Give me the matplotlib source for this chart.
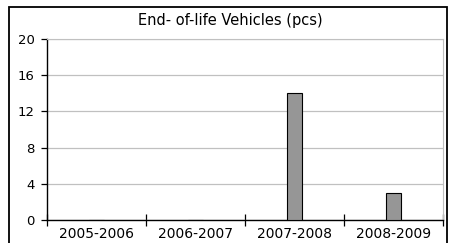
import matplotlib
matplotlib.use("Agg")
import matplotlib.pyplot as plt
from matplotlib.patches import Rectangle
import numpy as np

categories = ["2005-2006", "2006-2007", "2007-2008", "2008-2009"]
values = [0, 0, 14, 3]
y_ticks = [0, 4, 8, 12, 16, 20]
title = "End- of-life Vehicles (pcs)"

plt.rcParams["font.family"] = ["DejaVu Sans"]

fig = plt.figure(figsize=(4.49, 2.43), dpi=100)
ax = fig.add_axes([47 / 449, 1 - 220 / 243, 396 / 449, 181 / 243])

# outer chart frame (bottom edge falls off the image)
fig.patches.append(Rectangle((8.5 / 449, -0.2), (447 - 8.5) / 449, 1.2 - 7 / 243,
                             transform=fig.transFigure, fill=False,
                             edgecolor="black", linewidth=1.3))

x = np.arange(len(categories))
ax.bar(x, values, width=0.15, color="#969696", edgecolor="black", linewidth=0.8, zorder=3)

ax.set_xlim(-0.5, len(categories) - 0.5)
ax.set_ylim(0, 20)
ax.set_yticks(y_ticks)
ax.set_yticklabels([str(v) for v in y_ticks], fontsize=9.5)
ax.yaxis.grid(True, color="#c0c0c0", linewidth=0.9, zorder=0)

ax.set_xticks(x)
ax.set_xticklabels(categories, fontsize=10)
ax.tick_params(axis="x", length=0, pad=5)
ax.set_xticks(np.arange(-0.5, len(categories)), minor=True)
ax.tick_params(axis="x", which="minor", direction="inout", length=8, width=0.9)
ax.tick_params(axis="y", direction="out", length=4, width=0.9, pad=5)

for s in ["top", "right"]:
    ax.spines[s].set_color("#c0c0c0")
ax.spines["left"].set_linewidth(1.0)
ax.spines["bottom"].set_linewidth(1.0)

fig.text(0.513, 1 - 20 / 243, title, ha="center", va="center", fontsize=10.5)

fig.savefig("out.png", dpi=100)
